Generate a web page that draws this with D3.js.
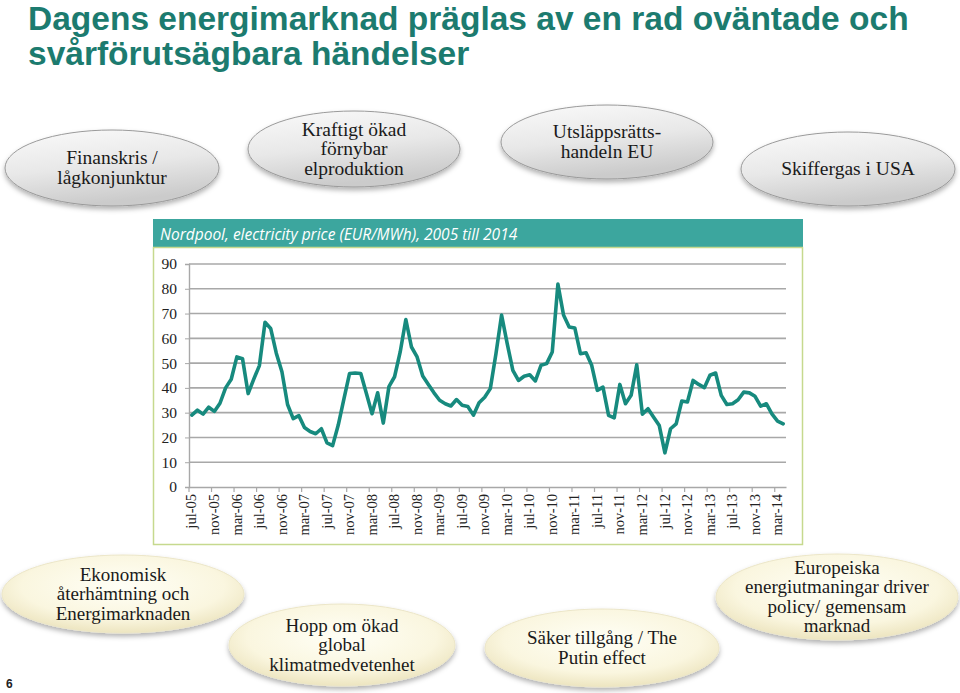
<!DOCTYPE html>
<html><head><meta charset="utf-8">
<script src="https://cdn.jsdelivr.net/npm/d3@7"></script>
<style>body{margin:0;background:#fff;overflow:hidden}</style>
</head><body>
<svg id="c" width="960" height="693"></svg>
<script>
// ---------- data ----------
const months = [
 "jul-05","aug-05","sep-05","okt-05","nov-05","dec-05",
 "jan-06","feb-06","mar-06","apr-06","maj-06","jun-06","jul-06","aug-06","sep-06","okt-06","nov-06","dec-06",
 "jan-07","feb-07","mar-07","apr-07","maj-07","jun-07","jul-07","aug-07","sep-07","okt-07","nov-07","dec-07",
 "jan-08","feb-08","mar-08","apr-08","maj-08","jun-08","jul-08","aug-08","sep-08","okt-08","nov-08","dec-08",
 "jan-09","feb-09","mar-09","apr-09","maj-09","jun-09","jul-09","aug-09","sep-09","okt-09","nov-09","dec-09",
 "jan-10","feb-10","mar-10","apr-10","maj-10","jun-10","jul-10","aug-10","sep-10","okt-10","nov-10","dec-10",
 "jan-11","feb-11","mar-11","apr-11","maj-11","jun-11","jul-11","aug-11","sep-11","okt-11","nov-11","dec-11",
 "jan-12","feb-12","mar-12","apr-12","maj-12","jun-12","jul-12","aug-12","sep-12","okt-12","nov-12","dec-12",
 "jan-13","feb-13","mar-13","apr-13","maj-13","jun-13","jul-13","aug-13","sep-13","okt-13","nov-13","dec-13",
 "jan-14","feb-14","mar-14","apr-14"
];
const prices = [
 29.0,31.0,29.4,32.2,30.5,33.8,
 40.0,43.5,52.5,51.8,37.7,43.5,49.0,66.5,64.0,54.0,46.5,33.3,
 27.6,28.8,24.0,22.4,21.5,23.5,17.8,16.7,25.0,35.5,45.8,46.0,
 45.8,37.7,29.6,38.0,25.8,40.5,44.5,54.5,67.6,56.5,52.5,44.8,
 41.4,38.0,35.0,33.6,32.7,35.3,33.0,32.5,29.0,34.0,36.2,39.7,
 53.8,69.4,57.9,47.1,43.0,44.7,45.3,42.8,49.1,49.8,54.5,81.9,
 69.4,64.6,64.2,53.8,54.2,49.1,39.0,40.3,28.9,27.9,41.4,33.6,
 37.0,49.3,29.4,31.6,28.2,24.8,13.8,23.5,25.5,34.7,34.3,43.0,
 41.4,40.1,45.1,46.0,37.0,33.3,33.6,35.2,38.3,38.0,36.6,32.6,
 33.6,29.5,26.6,25.5
];
const tickLabels = ["jul-05","nov-05","mar-06","jul-06","nov-06","mar-07","jul-07","nov-07",
 "mar-08","jul-08","nov-08","mar-09","jul-09","nov-09","mar-10","jul-10","nov-10","mar-11",
 "jul-11","nov-11","mar-12","jul-12","nov-12","mar-13","jul-13","nov-13","mar-14"];
const yTicks = [0,10,20,30,40,50,60,70,80,90];
const titleLines = ["Dagens energimarknad präglas av en rad oväntade och","svårförutsägbara händelser"];
const chartTitle = "Nordpool, electricity price (EUR/MWh), 2005 till 2014";
const topEvents = [["Finanskris /","lågkonjunktur"],["Kraftigt ökad","förnybar","elproduktion"],
  ["Utsläppsrätts-","handeln EU"],["Skiffergas i USA"]];
const bottomEvents = [["Ekonomisk","återhämtning och","Energimarknaden"],["Hopp om ökad","global","klimatmedvetenhet"],
  ["Säker tillgång / The","Putin effect"],["Europeiska","energiutmaningar driver","policy/ gemensam","marknad"]];
const pageNumber = "6";

// ---------- layout ----------
const svg = d3.select("#c");
const defs = svg.append("defs");
const gGray = defs.append("linearGradient").attr("id","gGray").attr("x1",0).attr("y1",0).attr("x2",0.3).attr("y2",1);
gGray.append("stop").attr("offset","0%").attr("stop-color","#fafafa");
gGray.append("stop").attr("offset","55%").attr("stop-color","#e8e8e8");
gGray.append("stop").attr("offset","100%").attr("stop-color","#cbcbcb");
const gCream = defs.append("radialGradient").attr("id","gCream").attr("cx","50%").attr("cy","40%").attr("r","60%");
gCream.append("stop").attr("offset","0%").attr("stop-color","#fffff6");
gCream.append("stop").attr("offset","70%").attr("stop-color","#faf6df");
gCream.append("stop").attr("offset","100%").attr("stop-color","#ede5c0");
const sh = defs.append("filter").attr("id","sh").attr("x","-20%").attr("y","-20%").attr("width","140%").attr("height","150%");
sh.append("feDropShadow").attr("dx",0).attr("dy",3).attr("stdDeviation",2.5).attr("flood-color","#000").attr("flood-opacity",0.3);

// title
const titleColor = "#1c7b6f";
titleLines.forEach((t,i)=>{
  svg.append("text").attr("x",28).attr("y",[30,65][i])
    .attr("font-family","Liberation Sans, Arial, sans-serif").attr("font-weight","bold")
    .attr("font-size",33.5).attr("fill",titleColor).text(t);
});

// bubbles
const topPos = [[112,168,107,38],[354,149,106,38],[607,142,106,37],[848,169,107,37]];
const botPos = [[123,594,121,39],[342,645,113,41],[602,648,117,39],[837,597,121,43]];
function bubble(lines,p,fill,stroke,fs){
  const g = svg.append("g");
  g.append("ellipse").attr("cx",p[0]).attr("cy",p[1]).attr("rx",p[2]).attr("ry",p[3])
    .attr("fill",fill).attr("stroke",stroke).attr("stroke-width",1).attr("filter","url(#sh)");
  const lh = 19.5;
  const y0 = p[1] - (lines.length-1)*lh/2 + 6;
  lines.forEach((l,i)=>{
    g.append("text").attr("x",p[0]).attr("y",y0+i*lh).attr("text-anchor","middle")
      .attr("font-family","Liberation Serif, Times New Roman, serif").attr("font-size",fs)
      .attr("fill","#1a1a1a").text(l);
  });
}
topEvents.forEach((e,i)=>bubble(e,topPos[i],"url(#gGray)","#9a9a9a",19.5));

// chart panel
svg.append("rect").attr("x",153).attr("y",219).attr("width",650).attr("height",28).attr("fill","#3ca69e");
svg.append("text").attr("x",160).attr("y",240).attr("font-family","Open Sans, sans-serif").attr("font-style","italic")
  .attr("font-size",15.5).attr("fill","#fff").text(chartTitle);
svg.append("rect").attr("x",153.5).attr("y",247.5).attr("width",649).attr("height",297)
  .attr("fill","#fff").attr("stroke","#c6d98e").attr("stroke-width",1.5);

const x = d3.scaleBand().domain(months).range([189,786]).padding(0);
const y = d3.scaleLinear().domain([0,90]).range([487,264]);

// gridlines
svg.append("g").selectAll("line").data(yTicks.filter(d=>d>0)).join("line")
  .attr("x1",189).attr("x2",786).attr("y1",d=>y(d)).attr("y2",d=>y(d))
  .attr("stroke","#a8a8a8").attr("stroke-width",1.6);

// y axis
const yAxis = svg.append("g").attr("transform","translate(189,0)")
  .call(d3.axisLeft(y).tickValues(yTicks).tickSize(4).tickPadding(8));
yAxis.select(".domain").attr("stroke","#a8a8a8").attr("stroke-width",1.4);
yAxis.selectAll(".tick line").attr("stroke","#a8a8a8");
yAxis.selectAll("text").attr("font-family","Liberation Serif, serif").attr("font-size",15.5).attr("fill","#222");

// x axis
const xAxis = svg.append("g").attr("transform","translate(0,487)")
  .call(d3.axisBottom(x).tickValues(tickLabels).tickSize(0).tickPadding(0));
xAxis.select(".domain").attr("stroke","#a8a8a8").attr("stroke-width",1.6);
xAxis.selectAll("text").attr("font-family","Liberation Serif, serif").attr("font-size",14.5).attr("fill","#222")
  .attr("transform","rotate(-90)").attr("text-anchor","end").attr("dy","0.32em").attr("x",-7).attr("y",0);
// boundary tick marks
svg.append("g").selectAll("line").data(tickLabels).join("line")
  .attr("x1",d=>x(d)).attr("x2",d=>x(d)).attr("y1",487).attr("y2",492)
  .attr("stroke","#a8a8a8").attr("stroke-width",1.2);

// line
const line = d3.line().x((d,i)=>x(months[i])+x.bandwidth()/2).y(d=>y(d)).curve(d3.curveLinear);
svg.append("path").datum(prices).attr("d",line).attr("fill","none")
  .attr("stroke","#178a7e").attr("stroke-width",3.6).attr("stroke-linejoin","round").attr("stroke-linecap","round");

bottomEvents.forEach((e,i)=>bubble(e,botPos[i],"url(#gCream)","#ece6c8",19));

svg.append("text").attr("x",6).attr("y",688).attr("font-family","Liberation Sans, sans-serif")
  .attr("font-weight","bold").attr("font-size",12).attr("fill","#222").text(pageNumber);
</script>
</body></html>
